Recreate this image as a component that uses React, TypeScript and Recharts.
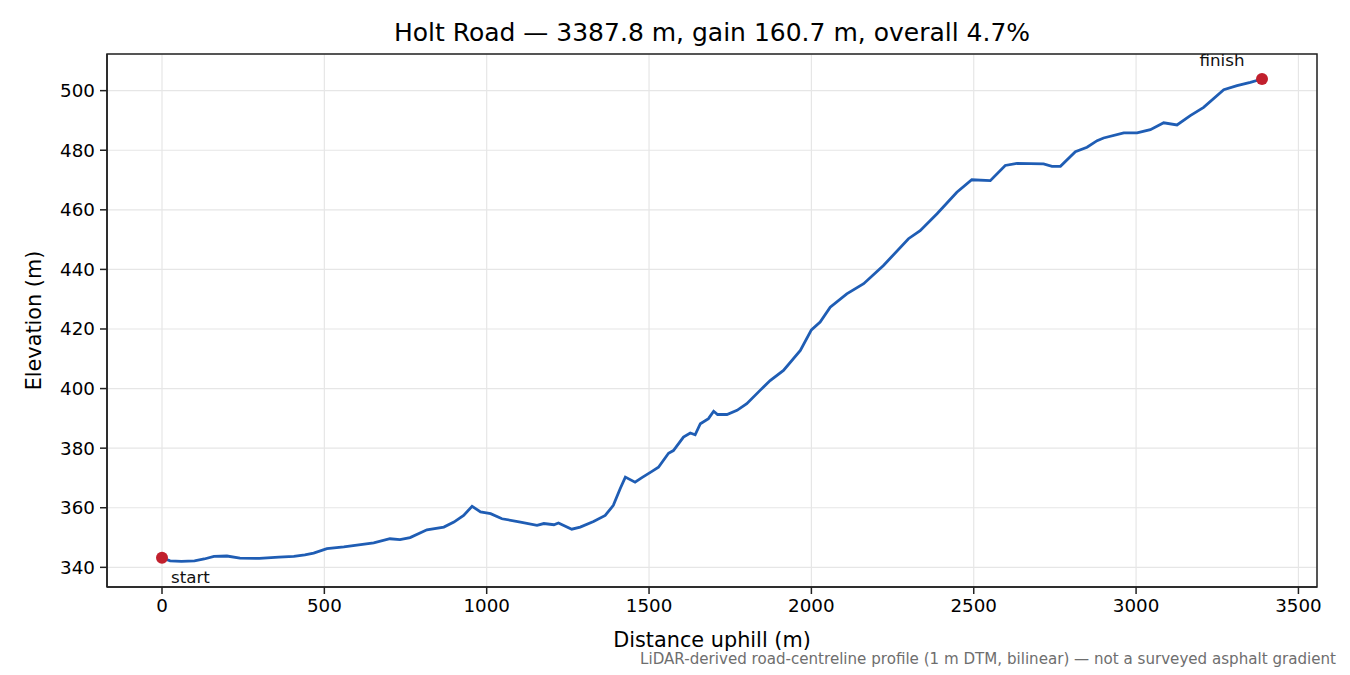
import { ComposedChart, Line, XAxis, YAxis, CartesianGrid, ReferenceDot, ReferenceArea } from 'recharts'

// distance along the road (m) and elevation (m)
const DIST = [
  0, 25, 60, 100, 130, 160, 200, 240, 300, 360, 406, 440, 467, 508, 560, 652, 702, 733, 764, 816,
  868, 899, 929, 955, 981, 1012, 1047, 1104, 1155, 1176, 1207, 1221, 1262, 1288, 1329, 1365, 1390,
  1411, 1427, 1457, 1478, 1509, 1529, 1560, 1575, 1606, 1627, 1642, 1658, 1683, 1699, 1711, 1740,
  1771, 1801, 1842, 1873, 1914, 1966, 2000, 2027, 2058, 2109, 2161, 2222, 2299, 2335, 2387, 2448,
  2494, 2551, 2597, 2633, 2715, 2741, 2767, 2813, 2849, 2880, 2900, 2962, 3003, 3044, 3085, 3126,
  3167, 3208, 3270, 3311, 3352, 3387.8,
]
const ELEV = [
  343.2, 342.2, 342.0, 342.2, 342.8, 343.7, 343.8, 343.1, 343.0, 343.4, 343.7, 344.2, 344.8, 346.3,
  346.9, 348.2, 349.6, 349.3, 350.0, 352.6, 353.5, 355.2, 357.4, 360.5, 358.6, 358.0, 356.3, 355.2,
  354.1, 354.7, 354.3, 354.9, 352.8, 353.5, 355.4, 357.4, 360.8, 366.4, 370.3, 368.6, 370.1, 372.2,
  373.6, 378.3, 379.2, 383.7, 385.1, 384.5, 388.2, 389.9, 392.4, 391.3, 391.3, 392.7, 394.9, 399.4,
  402.7, 406.1, 412.8, 419.7, 422.3, 427.3, 431.8, 435.2, 441.3, 450.3, 453.0, 458.7, 465.9, 470.1,
  469.8, 474.9, 475.6, 475.4, 474.6, 474.6, 479.5, 481.0, 483.2, 484.1, 485.8, 485.8, 486.9, 489.2,
  488.5, 491.6, 494.4, 500.3, 501.7, 502.8, 503.9,
]
const X_TICKS = [0, 500, 1000, 1500, 2000, 2500, 3000, 3500]
const Y_TICKS = [340, 360, 380, 400, 420, 440, 460, 480, 500]

const X_DOMAIN: [number, number] = [-169.39, 3557.19]
const Y_DOMAIN: [number, number] = [333.4, 512.3]

const FONT = '"DejaVu Sans", sans-serif'
const LINE = '#1f5db4'
const DOT = '#c1202d'

const data = DIST.map((d, i) => ({ d, e: ELEV[i] }))
const last = DIST.length - 1

function endDot(label: string, dx: number, dy: number, anchor: string) {
  return (props: any) => (
    <g>
      <circle cx={props.cx} cy={props.cy} r={6} fill={DOT} />
      <text x={props.cx + dx} y={props.cy + dy} textAnchor={anchor} fontSize={16.7} fontFamily={FONT} fill="#111">
        {label}
      </text>
    </g>
  )
}

export default function App() {
  return (
    <div style={{ position: 'absolute', left: 0, top: 0, width: 1350, height: 675, background: '#fff', fontFamily: FONT }}>
      <div style={{ position: 'absolute', left: 107, width: 1210, top: 18, textAlign: 'center', fontSize: 25, color: '#000' }}>
        Holt Road — 3387.8 m, gain 160.7 m, overall 4.7%
      </div>
      <ComposedChart width={1350} height={675} data={data} margin={{ top: 54, right: 33, bottom: 0, left: 0 }}>
        <CartesianGrid stroke="#e6e6e6" strokeWidth={1.2} vertical horizontal />
        <XAxis
          dataKey="d" type="number" domain={X_DOMAIN} ticks={X_TICKS} allowDataOverflow
          height={88} tickSize={7} tickMargin={5}
          tick={{ fill: '#000', fontSize: 18.3, fontFamily: FONT }}
          tickLine={{ stroke: '#222', strokeWidth: 1.5 }}
          axisLine={{ stroke: '#222', strokeWidth: 1.5 }}
          label={{ value: 'Distance uphill (m)', position: 'insideBottom', offset: 28, fill: '#000', fontSize: 20.8, fontFamily: FONT }}
        />
        <YAxis
          type="number" domain={Y_DOMAIN} ticks={Y_TICKS} allowDataOverflow
          width={107} tickSize={7} tickMargin={5}
          tick={{ fill: '#000', fontSize: 18.3, fontFamily: FONT }}
          tickLine={{ stroke: '#222', strokeWidth: 1.5 }}
          axisLine={{ stroke: '#222', strokeWidth: 1.5 }}
          label={{ value: 'Elevation (m)', angle: -90, position: 'insideLeft', offset: 34, fill: '#000', fontSize: 20.8, fontFamily: FONT, style: { textAnchor: 'middle' } }}
        />
        <ReferenceArea x1={X_DOMAIN[0]} x2={X_DOMAIN[1]} y1={Y_DOMAIN[0]} y2={Y_DOMAIN[1]} fill="none" stroke="#222" strokeWidth={1.5} fillOpacity={0} />
        <Line dataKey="e" type="linear" stroke={LINE} strokeWidth={2.8} dot={false} isAnimationActive={false} />
        <ReferenceDot x={DIST[0]} y={ELEV[0]} r={6} shape={endDot('start', 9, 25, 'start')} />
        <ReferenceDot x={DIST[last]} y={ELEV[last]} r={6} shape={endDot('finish', -40, -13, 'middle')} />
      </ComposedChart>
      <div style={{ position: 'absolute', right: 14, top: 650, fontSize: 15.1, color: '#6e6e6e', whiteSpace: 'nowrap' }}>
        LiDAR-derived road-centreline profile (1 m DTM, bilinear) — not a surveyed asphalt gradient
      </div>
    </div>
  )
}
